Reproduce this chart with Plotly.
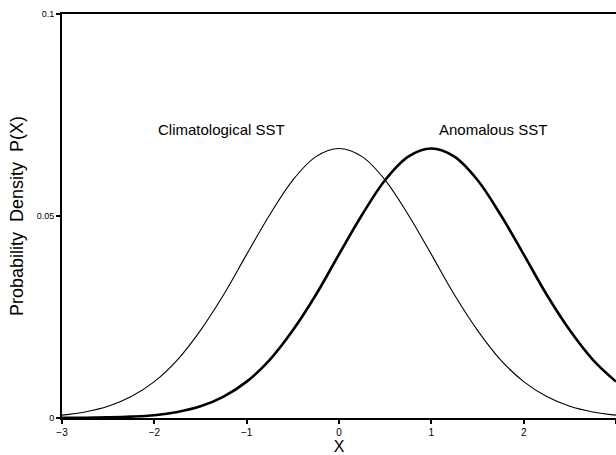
import plotly.graph_objects as go

x_vals = [-3.0, -2.75, -2.5, -2.25, -2.0, -1.75, -1.5, -1.25, -1.0, -0.75, -0.5, -0.25,
          0.0, 0.25, 0.5, 0.75, 1.0, 1.25, 1.5, 1.75, 2.0, 2.25, 2.5, 2.75, 3.0]
climatological = [0.0007, 0.0015, 0.0029, 0.0053, 0.0090, 0.0144, 0.0217, 0.0305, 0.0405,
                  0.0503, 0.0589, 0.0647, 0.0667, 0.0647, 0.0589, 0.0503, 0.0405, 0.0305,
                  0.0217, 0.0144, 0.0090, 0.0053, 0.0029, 0.0015, 0.0007]
anomalous = [0.00002, 0.00006, 0.00015, 0.00034, 0.0007, 0.0015, 0.0029, 0.0053, 0.0090,
             0.0144, 0.0217, 0.0305, 0.0405, 0.0503, 0.0589, 0.0647, 0.0667, 0.0647,
             0.0589, 0.0503, 0.0405, 0.0305, 0.0217, 0.0144, 0.0090]
x_ticks = [-3, -2, -1, 0, 1, 2, 3]
x_tick_text = ["\u22123", "\u22122", "\u22121", "0", "1", "2", "3"]
y_ticks = [0, 0.05, 0.1]
y_tick_text = ["0", "0.05", "0.1"]

font = "Liberation Sans, Arial, sans-serif"
nb = "\u00a0"

fig = go.Figure()
fig.add_trace(go.Scatter(x=x_vals, y=climatological, mode="lines",
                         line=dict(color="black", width=1.1, shape="spline"),
                         showlegend=False))
fig.add_trace(go.Scatter(x=x_vals, y=anomalous, mode="lines",
                         line=dict(color="black", width=2.6, shape="spline"),
                         showlegend=False))

fig.add_annotation(x=-1.27, y=0.0715, text="Climatological SST", showarrow=False,
                   font=dict(family=font, size=15, color="black"))
fig.add_annotation(x=1.67, y=0.0715, text="Anomalous SST", showarrow=False,
                   font=dict(family=font, size=15, color="black"))

fig.update_layout(
    width=616, height=455,
    margin=dict(l=62, r=0, t=14, b=37),
    paper_bgcolor="white", plot_bgcolor="white",
    font=dict(family=font, color="black"),
    xaxis=dict(range=[-3, 3], tickvals=x_ticks, ticktext=x_tick_text,
               showgrid=False, zeroline=False, showline=True, linecolor="black",
               linewidth=2, mirror=True, ticks="outside", ticklen=4, tickwidth=1.5,
               tickcolor="black", tickfont=dict(size=10, family=font),
               title=dict(text="X", font=dict(size=16, family=font), standoff=0)),
    yaxis=dict(range=[0, 0.1], tickvals=y_ticks, ticktext=y_tick_text,
               showgrid=False, zeroline=False, showline=True, linecolor="black",
               linewidth=2, ticks="outside", ticklen=4, tickwidth=1.5,
               tickcolor="black", tickfont=dict(size=9, family=font),
               title=dict(text="Probability" + nb * 2 + "Density" + nb * 2 + "P(X)",
                          font=dict(size=18, family=font), standoff=8)),
)

fig.write_html("out.html")
